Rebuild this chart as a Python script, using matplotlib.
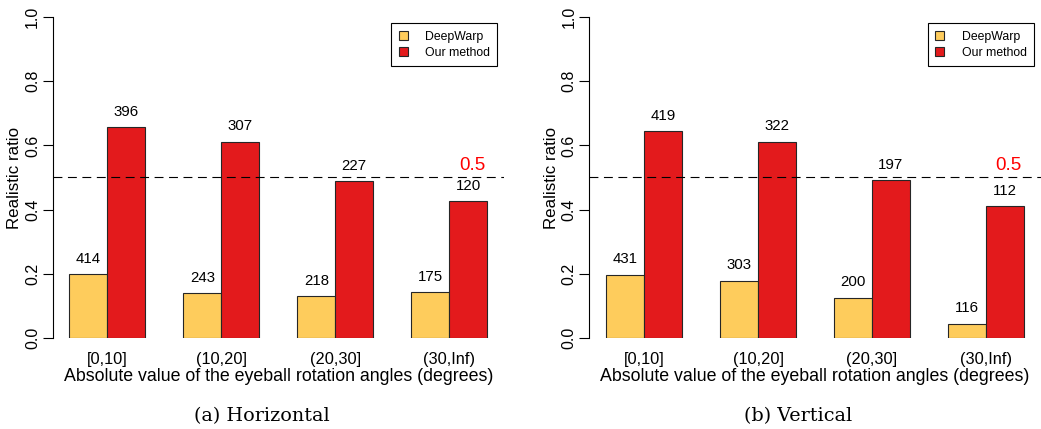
import matplotlib
matplotlib.use('Agg')
import matplotlib.pyplot as plt
from matplotlib.patches import Patch

plt.rcParams['font.family'] = ['Liberation Sans', 'DejaVu Sans']

# Angle bins shared by both panels
bins = ['[0,10]', '(10,20]', '(20,30]', '(30,Inf)']

# Realistic ratio per bin and the number of samples in each bin
horiz_deepwarp = [0.199, 0.140, 0.130, 0.143]
horiz_ours = [0.656, 0.612, 0.489, 0.426]
horiz_deepwarp_n = [414, 243, 218, 175]
horiz_ours_n = [396, 307, 227, 120]

vert_deepwarp = [0.197, 0.178, 0.125, 0.045]
vert_ours = [0.645, 0.612, 0.492, 0.410]
vert_deepwarp_n = [431, 303, 200, 116]
vert_ours_n = [419, 322, 197, 112]

chance = 0.5

yellow = '#FECC5C'
red = '#E31A1C'
edge = '#262626'

fig = plt.figure(figsize=(10.41, 4.29), dpi=100)


def draw_panel(ax, dw, ours, dw_n, ours_n, caption):
    # barplot layout: each group is two unit bars with a unit gap before it
    for i in range(len(bins)):
        x0 = 1 + 3 * i
        ax.bar(x0 + 0.5, dw[i], width=1, color=yellow, edgecolor=edge, linewidth=0.8)
        ax.bar(x0 + 1.5, ours[i], width=1, color=red, edgecolor=edge, linewidth=0.8)
        ax.text(x0 + 0.5, dw[i] + 0.048, str(dw_n[i]), ha='center', va='center', fontsize=10.8)
        ax.text(x0 + 1.5, ours[i] + 0.048, str(ours_n[i]), ha='center', va='center', fontsize=10.8)

    ax.axhline(chance, color='black', linestyle=(0, (8, 5)), linewidth=0.8)
    ax.text(11.6, chance + 0.037, str(chance), color='#FF0000', fontsize=13.5,
            ha='center', va='center')

    ax.set_xlim(0.56, 12.44)
    ax.set_ylim(0, 1)
    ax.set_yticks([0, 0.2, 0.4, 0.6, 0.8, 1.0])
    ax.set_yticklabels(['0.0', '0.2', '0.4', '0.6', '0.8', '1.0'],
                       rotation=90, va='center', fontsize=11.5)
    ax.set_xticks([2, 5, 8, 11])
    ax.set_xticklabels(bins, fontsize=11.8)
    ax.tick_params(axis='x', length=0, pad=10)
    ax.tick_params(axis='y', length=7, width=0.8, pad=2)
    for side in ['top', 'right', 'bottom']:
        ax.spines[side].set_visible(False)
    ax.spines['left'].set_linewidth(0.8)
    ax.set_ylabel('Realistic ratio', fontsize=12.2, labelpad=2)
    ax.set_xlabel('Absolute value of the eyeball rotation angles (degrees)',
                  fontsize=12.8, labelpad=1)

    handles = [Patch(facecolor=yellow, edgecolor=edge, linewidth=0.8),
               Patch(facecolor=red, edgecolor=edge, linewidth=0.8)]
    leg = ax.legend(handles, ['DeepWarp', 'Our method'], loc='upper right',
                    bbox_to_anchor=(0.985, 0.98), fontsize=8.8, fancybox=False,
                    edgecolor='black', handlelength=0.75, handleheight=0.75,
                    handletextpad=1.4, borderpad=0.6, labelspacing=0.35,
                    borderaxespad=0, framealpha=1)
    leg.get_frame().set_linewidth(0.8)

    bbox = ax.get_position()
    fig.text(bbox.x0 + bbox.width / 2 - 0.016, 0.03, caption, ha='center', va='center',
             fontsize=13.8, family='DejaVu Serif')


ax1 = fig.add_axes([0.0505, 0.2121, 0.4336, 0.7483])
draw_panel(ax1, horiz_deepwarp, horiz_ours, horiz_deepwarp_n, horiz_ours_n,
           '(a) Horizontal')

ax2 = fig.add_axes([0.5661, 0.2121, 0.4336, 0.7483])
draw_panel(ax2, vert_deepwarp, vert_ours, vert_deepwarp_n, vert_ours_n,
           '(b) Vertical')

fig.savefig('out.png', dpi=100)
